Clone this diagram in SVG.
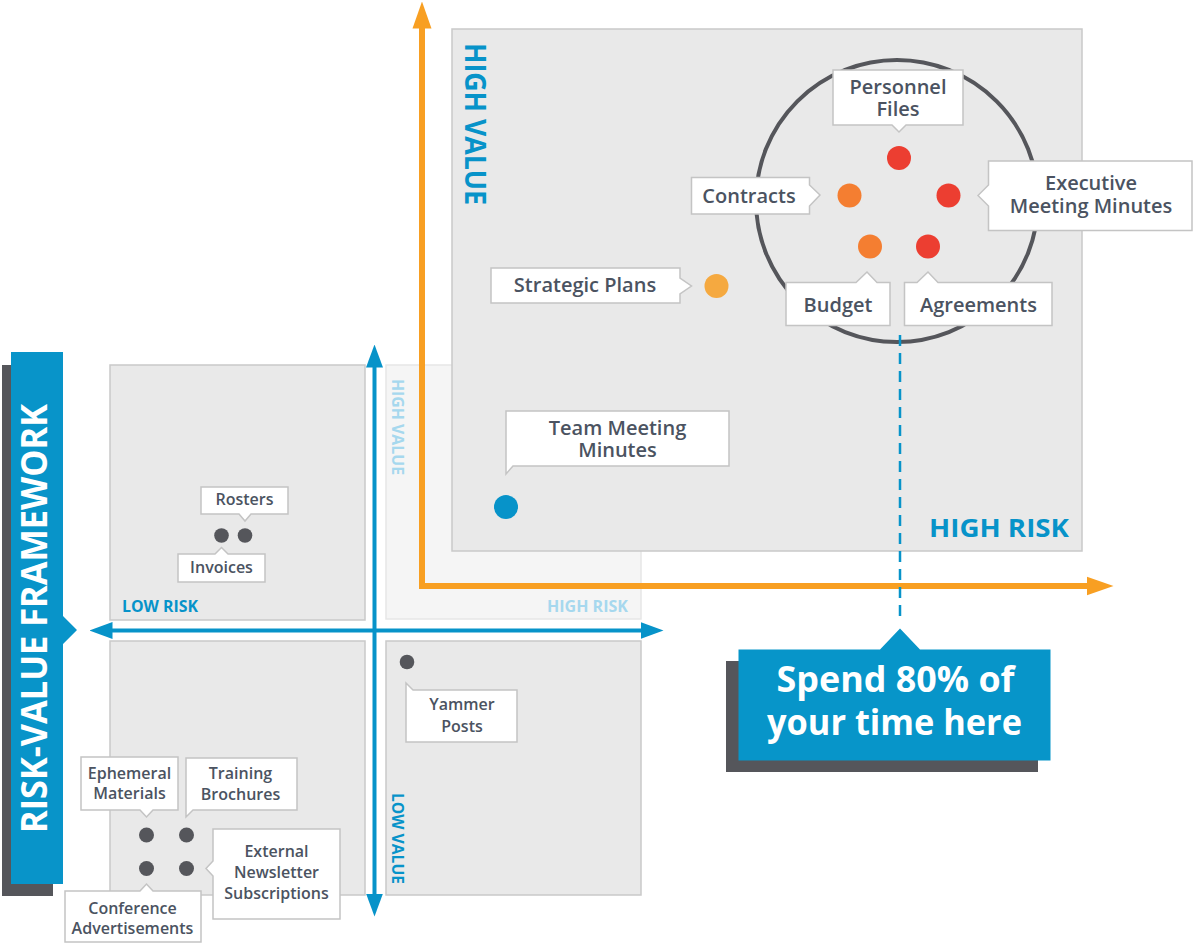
<svg xmlns="http://www.w3.org/2000/svg" width="1193" height="945" viewBox="0 0 1193 945">
  <style>
    .quad { fill: #e9e9e9; stroke: #c9c9c9; stroke-width: 1.5; }
    .quad-faded { fill: #f5f5f5; stroke: #e6e6e6; stroke-width: 1.5; }
    .lbl { fill: #ffffff; stroke: #c4c4c4; stroke-width: 1.5; stroke-linejoin: miter; }
    .t { font-family: "Open Sans", "Noto Sans", "Liberation Sans", sans-serif; font-weight: 600; fill: #4b5361; text-anchor: middle; }
    .t-lg { font-size: 20px; }
    .t-sm { font-size: 16px; }
    .axis-t { font-family: "Open Sans", "Noto Sans", "Liberation Sans", sans-serif; font-weight: 700; fill: #0793c9; }
    .axis-faded { fill: #a6d8ee; }
    .dot-grey { fill: #55565b; }
    .dot-red { fill: #ec3e31; }
    .dot-orange { fill: #f47e31; }
    .dot-amber { fill: #f5a940; }
    .dot-blue { fill: #0793c9; }
    .ax-blue { stroke: #0793c9; stroke-width: 4; fill: none; }
    .ax-orange { stroke: #f89f22; stroke-width: 6; fill: none; stroke-linejoin: miter; }
  </style>
  <defs>
    <marker id="headBlue" viewBox="0 -9 23 18" markerWidth="23" markerHeight="18" refX="0.5" refY="0" markerUnits="userSpaceOnUse" orient="auto-start-reverse">
      <path d="M0,-8.5 L23,0 L0,8.5 Z" fill="#0793c9"/>
    </marker>
    <marker id="headOrange" viewBox="0 -10 27 20" markerWidth="27" markerHeight="20" refX="0.5" refY="0" markerUnits="userSpaceOnUse" orient="auto-start-reverse">
      <path d="M0,-9.5 L27,0 L0,9.5 Z" fill="#f89f22"/>
    </marker>
  </defs>

  <!-- title banner -->
  <g id="title">
    <rect x="2" y="365" width="51" height="531" fill="#55565b"/>
    <path d="M11,352 H63 V616 L77,630 L63,644 V884 H11 Z" fill="#0894c9"/>
    <text transform="translate(47,618.5) rotate(-90)" text-anchor="middle" font-family="'Open Sans', 'Noto Sans', 'Liberation Sans', sans-serif" font-weight="700" font-size="35" fill="#ffffff" textLength="429" lengthAdjust="spacingAndGlyphs">RISK-VALUE FRAMEWORK</text>
  </g>

  <!-- small quadrant grid -->
  <g id="quadrants">
    <rect class="quad" x="110" y="365" width="255" height="255"/>
    <rect class="quad-faded" x="386" y="365" width="255" height="254"/>
    <rect class="quad" x="110" y="641" width="255" height="254"/>
    <rect class="quad" x="386" y="641" width="255" height="254"/>
    <text class="axis-t" x="122" y="612" font-size="16" textLength="76" lengthAdjust="spacingAndGlyphs">LOW RISK</text>
    <text class="axis-t axis-faded" x="547" y="612" font-size="16" textLength="81" lengthAdjust="spacingAndGlyphs">HIGH RISK</text>
    <text class="axis-t axis-faded" transform="translate(392,427) rotate(90)" text-anchor="middle" font-size="16" textLength="96" lengthAdjust="spacingAndGlyphs">HIGH VALUE</text>
    <text class="axis-t" transform="translate(391.5,838.5) rotate(90)" text-anchor="middle" font-size="16" textLength="91" lengthAdjust="spacingAndGlyphs">LOW VALUE</text>
  </g>

  <!-- high value / high risk panel -->
  <g id="focus-panel">
    <rect class="quad" x="452" y="29" width="630" height="522"/>
    <text class="axis-t" transform="translate(465,124) rotate(90)" text-anchor="middle" font-size="28" textLength="162" lengthAdjust="spacingAndGlyphs">HIGH VALUE</text>
    <text class="axis-t" x="929" y="537" font-size="25" textLength="140" lengthAdjust="spacingAndGlyphs">HIGH RISK</text>
    <circle cx="897" cy="201" r="141" fill="none" stroke="#55565b" stroke-width="4"/>
  </g>

  <!-- connectors: axes and guide line -->
  <g id="connectors">
    <line class="ax-blue" x1="374.5" y1="367" x2="374.5" y2="894" marker-start="url(#headBlue)" marker-end="url(#headBlue)"/>
    <line class="ax-blue" x1="112" y1="630.5" x2="641" y2="630.5" marker-start="url(#headBlue)" marker-end="url(#headBlue)"/>
    <path class="ax-orange" d="M422,28 V586 H1087" marker-start="url(#headOrange)" marker-end="url(#headOrange)"/>
    <line x1="900" y1="335" x2="900" y2="620" stroke="#0793c9" stroke-width="2.5" stroke-dasharray="11 7"/>
  </g>

  <!-- low risk / high value items -->
  <g id="rosters">
    <path class="lbl" d="M201,487 H288 V514 H251 L245,521 L239,514 H201 Z"/>
    <text class="t t-sm" x="244.5" y="505">Rosters</text>
    <circle class="dot-grey" cx="245" cy="535.5" r="7.3"/>
  </g>
  <g id="invoices">
    <path class="lbl" d="M178,554 H215 L221.5,547.5 L228,554 H265 V582 H178 Z"/>
    <text class="t t-sm" x="221.5" y="573">Invoices</text>
    <circle class="dot-grey" cx="221.5" cy="535.5" r="7.3"/>
  </g>

  <!-- low risk / low value items -->
  <g id="ephemeral-materials">
    <path class="lbl" d="M81,757 H178 V810 H153 L146.5,817 L140,810 H81 Z"/>
    <text class="t t-sm" x="129.5" y="778.5">Ephemeral</text>
    <text class="t t-sm" x="129.5" y="799">Materials</text>
    <circle class="dot-grey" cx="146.5" cy="835" r="7.5"/>
  </g>
  <g id="training-brochures">
    <path class="lbl" d="M186,758 H297 V810 H193 L186,817 Z"/>
    <text class="t t-sm" x="240.5" y="779">Training</text>
    <text class="t t-sm" x="240.5" y="800">Brochures</text>
    <circle class="dot-grey" cx="186.5" cy="835" r="7.5"/>
  </g>
  <g id="external-newsletter-subscriptions">
    <path class="lbl" d="M213,829 H340 V919 H213 V876 L206,868.5 L213,861 Z"/>
    <text class="t t-sm" x="276.5" y="856.5">External</text>
    <text class="t t-sm" x="276.5" y="877.5">Newsletter</text>
    <text class="t t-sm" x="276.5" y="898.5">Subscriptions</text>
    <circle class="dot-grey" cx="186.5" cy="868.5" r="7.5"/>
  </g>
  <g id="conference-advertisements">
    <path class="lbl" d="M65,891 H140 L146.5,884 L153,891 H201 V942 H65 Z"/>
    <text class="t t-sm" x="132.5" y="913.5">Conference</text>
    <text class="t t-sm" x="132.5" y="934">Advertisements</text>
    <circle class="dot-grey" cx="146.5" cy="868.5" r="7.5"/>
  </g>

  <!-- high risk / low value items -->
  <g id="yammer-posts">
    <path class="lbl" d="M406,690 V683 L413,690 H517 V742 H406 Z"/>
    <text class="t t-sm" x="462" y="710">Yammer</text>
    <text class="t t-sm" x="462" y="731.5">Posts</text>
    <circle class="dot-grey" cx="407" cy="662" r="7.3"/>
  </g>

  <!-- high risk / high value items -->
  <g id="team-meeting-minutes">
    <path class="lbl" d="M506,411 H729 V466 H513 L506,474 Z"/>
    <text class="t t-lg" x="617.5" y="435">Team Meeting</text>
    <text class="t t-lg" x="617.5" y="457">Minutes</text>
    <circle class="dot-blue" cx="506" cy="507" r="12"/>
  </g>
  <g id="strategic-plans">
    <path class="lbl" d="M491,268 H680 V278 L691.5,286 L680,294 V303 H491 Z"/>
    <text class="t t-lg" x="585" y="292">Strategic Plans</text>
    <circle class="dot-amber" cx="716.5" cy="286" r="12"/>
  </g>
  <g id="personnel-files">
    <path class="lbl" d="M833,70 H963 V125 H906 L899,132 L892,125 H833 Z"/>
    <text class="t t-lg" x="898" y="94">Personnel</text>
    <text class="t t-lg" x="898" y="115.5">Files</text>
    <circle class="dot-red" cx="899" cy="158" r="12"/>
  </g>
  <g id="contracts">
    <path class="lbl" d="M691.5,177.5 H809.5 V185 L820,195 L809.5,206 V214 H691.5 Z"/>
    <text class="t t-lg" x="749" y="202.5">Contracts</text>
    <circle class="dot-orange" cx="849.5" cy="195.5" r="12"/>
  </g>
  <g id="executive-meeting-minutes">
    <path class="lbl" d="M988.5,161 H1192 V230.5 H988.5 V206 L978,195.5 L988.5,185 Z"/>
    <text class="t t-lg" x="1091" y="189.5">Executive</text>
    <text class="t t-lg" x="1091" y="212.5">Meeting Minutes</text>
    <circle class="dot-red" cx="948.5" cy="195.5" r="12"/>
  </g>
  <g id="budget">
    <path class="lbl" d="M786,282.5 H856 L867,272 L877,282.5 H890 V325.5 H786 Z"/>
    <text class="t t-lg" x="838" y="311.5">Budget</text>
    <circle class="dot-orange" cx="870" cy="246.5" r="12"/>
  </g>
  <g id="agreements">
    <path class="lbl" d="M904.5,282.5 H917 L928,272 L938,282.5 H1052 V325.5 H904.5 Z"/>
    <text class="t t-lg" x="978.5" y="311.5">Agreements</text>
    <circle class="dot-red" cx="928" cy="246.5" r="12"/>
  </g>

  <!-- call-out -->
  <g id="callout">
    <rect x="726" y="661" width="312" height="111" fill="#55565b"/>
    <path d="M738.5,649.5 H880 L900,628.5 L920,649.5 H1050.5 V760.5 H738.5 Z" fill="#0795c9"/>
    <text x="895.5" y="692" text-anchor="middle" font-family="'Open Sans', 'Noto Sans', 'Liberation Sans', sans-serif" font-weight="700" font-size="35" fill="#ffffff" textLength="238" lengthAdjust="spacingAndGlyphs">Spend 80% of</text>
    <text x="894.5" y="735" text-anchor="middle" font-family="'Open Sans', 'Noto Sans', 'Liberation Sans', sans-serif" font-weight="700" font-size="35" fill="#ffffff" textLength="255" lengthAdjust="spacingAndGlyphs">your time here</text>
  </g>
</svg>
